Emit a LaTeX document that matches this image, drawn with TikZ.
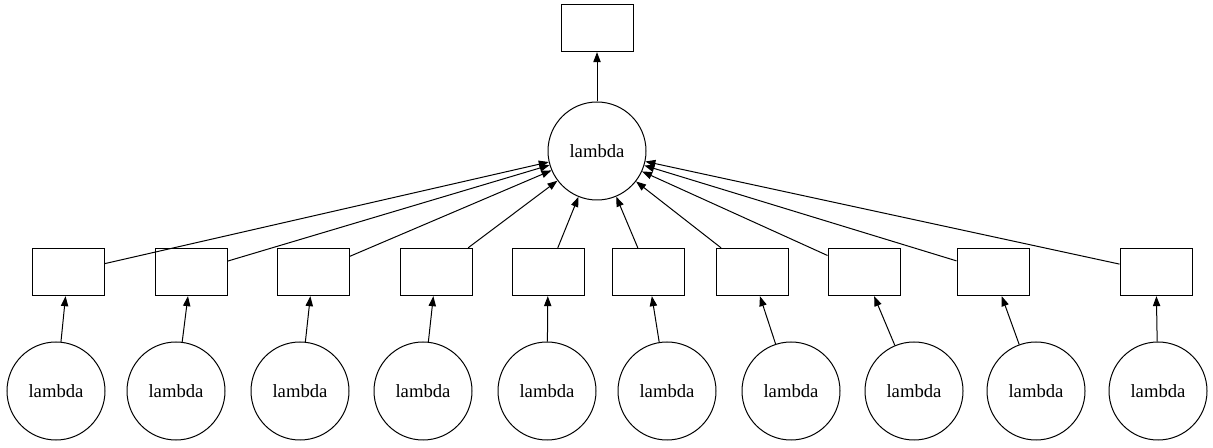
\documentclass[tikz,border=0pt]{standalone}
\usepackage{fontspec}
\setmainfont{Liberation Serif}
\usetikzlibrary{arrows.meta}

\tikzset{
 task/.style={draw, line width=0.75pt, minimum width=54pt, minimum height=35.5pt, inner sep=0pt},
 func/.style={draw, circle, line width=0.75pt, minimum size=73.5pt, inner sep=0pt, font=\fontsize{14}{16}\selectfont},
 arr/.style={line width=0.75pt, -{Triangle[length=7.5pt,width=5.5pt]}}
}

\begin{document}
\begin{tikzpicture}[x=0.75pt,y=-0.75pt]

\useasboundingbox (0,0) rectangle (1213,448);

% output and reduction
\node[task] (out) at (597,28) {};
\node[func] (top) at (597,151) {lambda};
\draw[arr] (top) -- (out);

% mapped tasks
\foreach \i/\xb/\xc in {1/68/56, 2/191/176, 3/313/300, 4/436/423, 5/548/547,
 6/648/667, 7/752/791, 8/864/914, 9/993/1036, 10/1156/1158}{
 \node[task] (b\i) at (\xb,272) {};
 \node[func] (c\i) at (\xc,391) {lambda};
 \draw[arr] (c\i) -- (b\i);
 \draw[arr] (b\i) -- (top);
}

\end{tikzpicture}
\end{document}
